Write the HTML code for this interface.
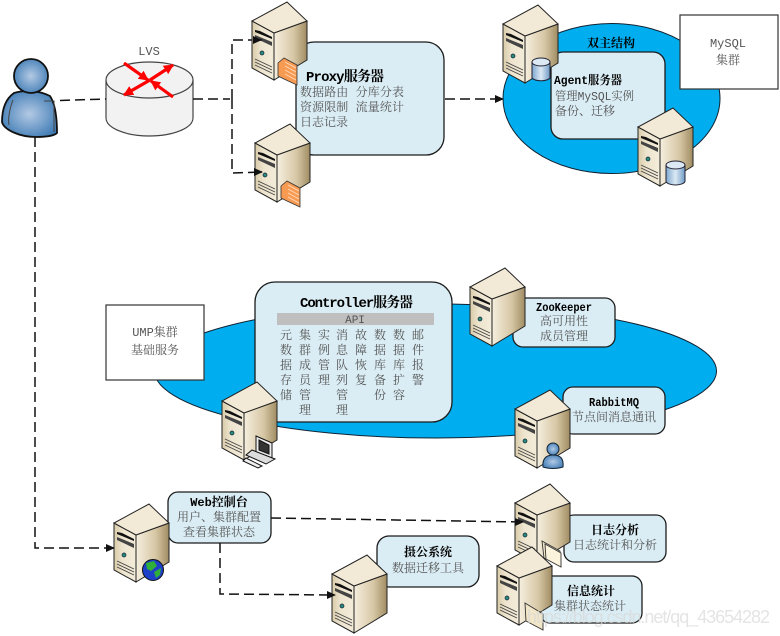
<!DOCTYPE html>
<html>
<head>
<meta charset="utf-8">
<style>
html,body{margin:0;padding:0;background:#fff;width:780px;height:636px;overflow:hidden}
svg{display:block}
text{font-family:"Liberation Mono","Noto Serif CJK SC","Noto Sans CJK SC",monospace;font-size:12px;fill:#555}
.t{fill:#000;font-weight:bold}
.m{text-anchor:middle}
.b{fill:#daedf4;stroke:#1c1c1c;stroke-width:1.3}
.d{fill:none;stroke:#111;stroke-width:1.5;stroke-dasharray:10 5}
</style>
</head>
<body>
<svg width="780" height="636" viewBox="0 0 780 636" xmlns="http://www.w3.org/2000/svg">
<defs>
<linearGradient id="sr" x1="0" x2="1" y1="0" y2="0"><stop offset="0" stop-color="#f6efdf"/><stop offset=".6" stop-color="#d6c6a4"/><stop offset="1" stop-color="#a08c62"/></linearGradient>
<linearGradient id="sf" x1="0" x2="1" y1="0" y2="0"><stop offset="0" stop-color="#d9cba8"/><stop offset=".4" stop-color="#eee5cf"/><stop offset="1" stop-color="#f3ecd9"/></linearGradient>
<radialGradient id="bl" cx=".5" cy=".5" r=".62"><stop offset="0" stop-color="#b3c9e4"/><stop offset="1" stop-color="#3877b2"/></radialGradient>
<linearGradient id="cy" x1="0" x2="1" y1="0" y2="0"><stop offset="0" stop-color="#7da7cf"/><stop offset=".5" stop-color="#dce9f4"/><stop offset="1" stop-color="#6f9bc6"/></linearGradient>
<g id="s">
<polygon points="0,20 22,32 22,79 0,67" fill="url(#sf)" stroke="#222" stroke-width="1"/>
<polygon points="22,32 55,20 55,59 22,79" fill="url(#sr)" stroke="#222" stroke-width="1"/>
<polygon points="35,1 55,20 22,32 0,20" fill="#f2ead6" stroke="#222" stroke-width="1"/>
<polygon points="3,29 8,30 20,36 20,38 3,31" fill="#111"/>
<polygon points="3,34 20,41 20,45 3,37" fill="#444"/>
<circle cx="10" cy="52" r="2" fill="#2a8a80" stroke="#123" stroke-width=".7"/>
<path d="M3,58 20,66 M3,61 20,69 M3,64 20,72" stroke="#444" stroke-width=".9"/>
</g>
<marker id="a" markerWidth="9" markerHeight="8" refX="8" refY="4" orient="auto" markerUnits="userSpaceOnUse"><path d="M0,0 9,4 0,8z" fill="#111"/></marker>
<marker id="r" markerWidth="10" markerHeight="10" refX="9" refY="5" orient="auto" markerUnits="userSpaceOnUse"><path d="M0,0 10,5 0,10z" fill="#f00"/></marker>
</defs>

<ellipse cx="611.5" cy="98.5" rx="108.5" ry="75" fill="#00aeef" stroke="#123" stroke-width="1"/>
<ellipse cx="435.5" cy="371" rx="281" ry="67" fill="#00aeef" stroke="#123" stroke-width="1"/>

<rect x="680" y="15" width="98" height="74" fill="#fff" stroke="#333" stroke-width="1.2"/>
<text class="m" x="728" y="47">MySQL</text>
<text class="m" x="728" y="64">集群</text>
<rect x="106" y="305" width="98" height="75" fill="#fff" stroke="#333" stroke-width="1.2"/>
<text class="m" x="155" y="336">UMP集群</text>
<text class="m" x="155" y="354">基础服务</text>

<!-- LVS -->
<path d="M106,80V118A43.500,18 0 0 0 193,118V80" fill="#f2f2f2" stroke="#444" stroke-width="1.2"/>
<ellipse cx="149.500" cy="80" rx="43.500" ry="18" fill="#f2f2f2" stroke="#444" stroke-width="1.2"/>
<text class="m" x="149" y="55">LVS</text>
<g stroke="#f00" stroke-width="3.200" fill="none">
<line x1="124" y1="63" x2="148" y2="80" marker-end="url(#r)"/>
<line x1="150" y1="80" x2="173" y2="65" marker-end="url(#r)"/>
<line x1="150" y1="80" x2="124" y2="95" marker-end="url(#r)"/>
<line x1="173" y1="97" x2="151" y2="81" marker-end="url(#r)"/>
</g>

<!-- Boxes -->
<rect class="b" x="296" y="42" width="148" height="113" rx="18"/>
<rect class="b" x="551" y="52" width="114" height="87" rx="12"/>
<rect class="b" x="255" y="282" width="197" height="140" rx="20"/>
<rect class="b" x="513" y="298" width="102" height="49" rx="10"/>
<rect class="b" x="563" y="387" width="102" height="47" rx="10"/>
<rect class="b" x="168" y="492" width="103" height="51" rx="10"/>
<rect class="b" x="377" y="536" width="102" height="51" rx="12"/>
<rect class="b" x="564" y="515" width="102" height="47" rx="10"/>
<rect class="b" x="540" y="576" width="102" height="47" rx="10"/>

<!-- Connectors -->
<path class="d" d="M60,100.500 106,99"/>
<path class="d" d="M193,99H230"/>
<path class="d" d="M232,99V173L262,172"/>
<path class="d" d="M232,99V40H262"/>
<path class="d" d="M445,99H503" marker-end="url(#a)"/>
<path class="d" d="M35,137V548H114" marker-end="url(#a)"/>
<path class="d" d="M271,518 523,522"/>
<path class="d" d="M220,543V594L335,595"/>

<!-- Servers -->
<use href="#s" x="252" y="1"/>
<use href="#s" x="255" y="123"/>
<use href="#s" x="503" y="4"/>
<use href="#s" x="638" y="107"/>
<use href="#s" x="222" y="381"/>
<use href="#s" x="470" y="267"/>
<use href="#s" x="515" y="389"/>
<use href="#s" x="515" y="483"/>
<use href="#s" x="114" y="503"/>
<use href="#s" x="332" y="554"/>

<!-- Arrow tips over servers -->
<path d="M254,40H262" stroke="#111" stroke-width="1.500"/>
<path d="M253,36 262,40 253,44z" fill="#111"/>
<path d="M254,172H262" stroke="#111" stroke-width="1.500"/>
<path d="M254,168 263,172 254,176z" fill="#111"/>
<path d="M515,521.500H523" stroke="#111" stroke-width="1.500"/>
<path d="M515,518 524,522 515,526z" fill="#111"/>
<path d="M327,591 336,595 327,599z" fill="#111"/>

<!-- Firewalls -->
<g fill="#f79a52" stroke="#333" stroke-width=".8">
<polygon points="278,63 284,58 297,65 297,85 284,79 278,76"/>
<polygon points="281,186 287,181 300,188 300,207 287,201 281,198"/>
</g>
<g stroke="#ffdcc0" stroke-width=".8">
<path d="M285,62 296,68M285,66 296,72M285,70 296,76M285,74 296,80"/>
<path d="M288,185 299,191M288,189 299,195M288,193 299,199M288,197 299,203"/>
</g>

<!-- Databases -->
<g stroke="#223" stroke-width="1">
<path d="M532,62V78A9.500,4 0 0 0 550,78V62z" fill="url(#cy)"/>
<ellipse cx="541" cy="62" rx="9" ry="4" fill="#dce9f4"/>
<path d="M666,165V181A9.500,4 0 0 0 685,181V165z" fill="url(#cy)"/>
<ellipse cx="675.500" cy="165" rx="9.500" ry="4" fill="#dce9f4"/>
</g>

<!-- Computer on controller -->
<g stroke="#111" stroke-width="1">
<polygon points="256,436 272,443 272,458 256,452" fill="#eee"/>
<polygon points="259,440 269,445 269,454 259,450" fill="#333"/>
<polygon points="252,450 275,459 266,464 246,455" fill="#ddd"/>
<polygon points="246,458 262,466 258,468 243,461" fill="#eee"/>
</g>

<!-- Globe -->
<circle cx="153" cy="570" r="10.500" fill="#1e3fc8" stroke="#111"/>
<path d="M146,563 154,561 157,566 151,571 147,569z M154,572 161,568 160,575 156,578z" fill="#2fae3a"/>

<!-- User on rabbit -->
<circle cx="553" cy="449" r="6" fill="url(#bl)" stroke="#123"/>
<path d="M543,467C542,458 547,455 553,455 560,455 564,458 563,467 557,469 549,469 543,467z" fill="url(#bl)" stroke="#123"/>

<!-- Folder on log -->
<g fill="#f2e6c8" stroke="#333" stroke-width=".9">
<polygon points="542,541 560,551 561,566 544,558"/>
<polygon points="545,544 561,553 561,567 546,559" fill="#fbf3dc"/>
</g>

<!-- Info server over log -->
<use href="#s" x="497" y="546"/>
<g fill="#f2e6c8" stroke="#333" stroke-width=".9">
<polygon points="525,603 543,614 543,630 526,621"/>
</g>

<!-- Main user -->
<g stroke="#111" stroke-width="1.800" fill="url(#bl)">
<path d="M14,93C4,100 2,112 2,122 4,130 20,137 36,137 44,137 54,136 57,133 57,120 56,105 50,96 38,90 24,90 14,93z"/>
<circle cx="31" cy="76" r="17"/>
</g>
<path d="M44,101H54V132M13,100C9,110 8,120 9,125" fill="none" stroke="#444" stroke-width="1"/>

<!-- Text -->
<text class="t" x="306" y="81" style="font-size:14px" textLength="78">Proxy服务器</text>
<text x="300" y="96" textLength="104">数据路由 分库分表</text>
<text x="300" y="111" textLength="104">资源限制 流量统计</text>
<text x="300" y="126" textLength="48">日志记录</text>

<text class="t m" x="611" y="47">双主结构</text>
<text class="t" x="554" y="84" textLength="68" lengthAdjust="spacingAndGlyphs">Agent服务器</text>
<text x="555" y="100" textLength="79" lengthAdjust="spacingAndGlyphs">管理MySQL实例</text>
<text x="555" y="115" textLength="60">备份、迁移</text>

<text class="t" x="300" y="307" style="font-size:14px" textLength="113">Controller服务器</text>
<rect x="277" y="313" width="157" height="12" fill="#bfbfbf"/>
<text class="m" x="355" y="323" style="font-size:11px">API</text>

<g class="m">
<text class="m" x="286" y="339">元</text><text class="m" x="286" y="354">数</text><text class="m" x="286" y="369">据</text><text class="m" x="286" y="384">存</text><text class="m" x="286" y="399">储</text>
<text class="m" x="305" y="339">集</text><text class="m" x="305" y="354">群</text><text class="m" x="305" y="369">成</text><text class="m" x="305" y="384">员</text><text class="m" x="305" y="399">管</text><text class="m" x="305" y="414">理</text>
<text class="m" x="324" y="339">实</text><text class="m" x="324" y="354">例</text><text class="m" x="324" y="369">管</text><text class="m" x="324" y="384">理</text>
<text class="m" x="342" y="339">消</text><text class="m" x="342" y="354">息</text><text class="m" x="342" y="369">队</text><text class="m" x="342" y="384">列</text><text class="m" x="342" y="399">管</text><text class="m" x="342" y="414">理</text>
<text class="m" x="361" y="339">故</text><text class="m" x="361" y="354">障</text><text class="m" x="361" y="369">恢</text><text class="m" x="361" y="384">复</text>
<text class="m" x="380" y="339">数</text><text class="m" x="380" y="354">据</text><text class="m" x="380" y="369">库</text><text class="m" x="380" y="384">备</text><text class="m" x="380" y="399">份</text>
<text class="m" x="399" y="339">数</text><text class="m" x="399" y="354">据</text><text class="m" x="399" y="369">库</text><text class="m" x="399" y="384">扩</text><text class="m" x="399" y="399">容</text>
<text class="m" x="418" y="339">邮</text><text class="m" x="418" y="354">件</text><text class="m" x="418" y="369">报</text><text class="m" x="418" y="384">警</text>
</g>

<text class="t m" x="564" y="311" textLength="56" lengthAdjust="spacingAndGlyphs">ZooKeeper</text>
<text class="m" x="564" y="325">高可用性</text>
<text class="m" x="564" y="340">成员管理</text>

<text class="t m" x="614" y="406" textLength="50" lengthAdjust="spacingAndGlyphs">RabbitMQ</text>
<text class="m" x="614" y="421">节点间消息通讯</text>

<text class="t m" x="219" y="506">Web控制台</text>
<text class="m" x="219" y="521">用户、集群配置</text>
<text class="m" x="219" y="536">查看集群状态</text>

<text class="t m" x="428" y="556">摄公系统</text>
<text class="m" x="428" y="572">数据迁移工具</text>

<text class="t m" x="615" y="534">日志分析</text>
<text class="m" x="615" y="549">日志统计和分析</text>

<text class="t m" x="591" y="595">信息统计</text>
<text class="m" x="590" y="610">集群状态统计</text>

<text x="527" y="623" textLength="243" style="font-family:'Liberation Sans',sans-serif;font-size:18px;fill:#d8d8d8;fill-opacity:.7">https://blog.csdn.net/qq_43654282</text>
</svg>
</body>
</html>
